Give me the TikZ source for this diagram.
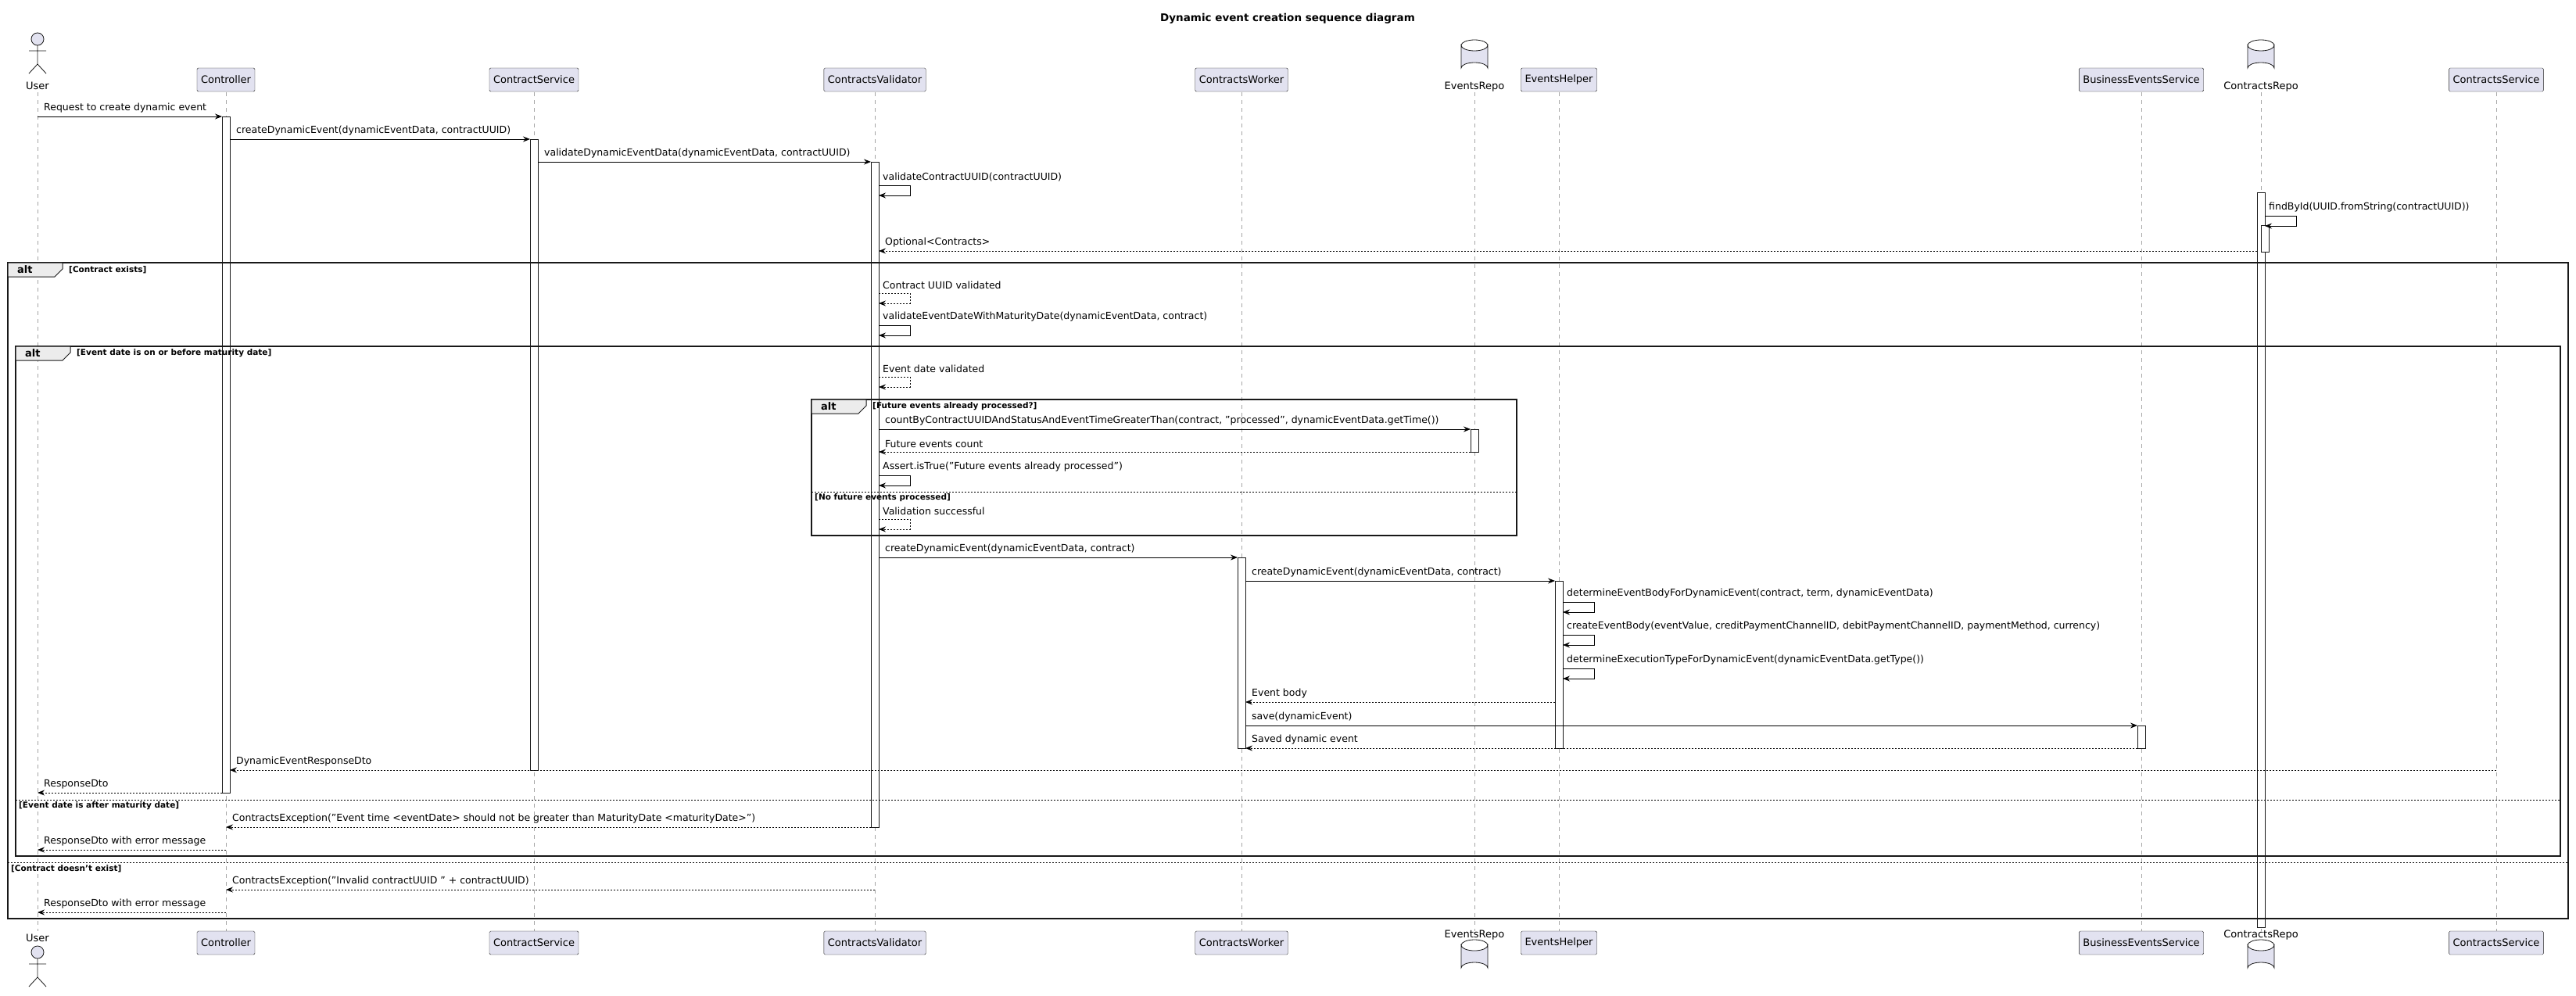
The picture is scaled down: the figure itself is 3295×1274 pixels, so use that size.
\documentclass[tikz,border=0pt]{standalone}
\usepackage{fontspec}
\setmainfont{DejaVu Sans}
\usetikzlibrary{arrows.meta}
\definecolor{pfill}{HTML}{E2E2F0}
\definecolor{pline}{HTML}{181818}
\tikzset{
  part/.style={draw=pline,fill=pfill,rounded corners=1.5pt,minimum height=30pt,inner xsep=5pt,font=\fontsize{13}{15}\selectfont},
  lbl/.style={inner sep=0pt,font=\fontsize{12.5}{14}\selectfont},
  plbl/.style={inner sep=0pt,font=\fontsize{13}{15}\selectfont},
  flbl/.style={inner sep=0pt,font=\bfseries\fontsize{10.5}{12}\selectfont},
  life/.style={draw=gray!70,dash pattern=on 5pt off 5pt,line width=0.6pt},
  act/.style={draw=pline,fill=white,line width=0.7pt},
  call/.style={line width=0.8pt,-{Stealth[length=9pt,width=7pt,inset=3pt]}},
  ret/.style={line width=0.8pt,dash pattern=on 2pt off 2pt,-{Stealth[length=9pt,width=7pt,inset=3pt]}},
  frame/.style={line width=1.6pt,draw=pline},
  sep/.style={line width=0.8pt,dash pattern=on 2pt off 2pt},
}
\newcommand\msg[5]{\draw[#5] (#1,#3) -- (#2,#3);
  \node[lbl,anchor=south west] at ({min(#1,#2)+8},#3-5) {#4};}
\newcommand\selfm[4]{\draw[#4] (#1,#2) -- (#1+40,#2) -- (#1+40,#2+13) -- (#1,#2+13);
  \node[lbl,anchor=south west] at (#1+5,#2-5) {#3};}
\newcommand\dbase[2]{%
  \draw[draw=pline,fill=pfill,line width=0.8pt] (#1-17,#2+8) -- (#1-17,#2+37) arc[x radius=17,y radius=7,start angle=180,end angle=360] -- (#1+17,#2+8) arc[x radius=17,y radius=7,start angle=0,end angle=180] -- cycle;
  \draw[draw=pline,line width=0.8pt] (#1-17,#2+8) arc[x radius=17,y radius=7,start angle=180,end angle=360];}
\newcommand\actor[2]{%
  \draw[draw=pline,fill=pfill,line width=0.8pt] (#1,#2+8) circle[radius=8];
  \draw[draw=pline,line width=0.8pt] (#1,#2+16) -- (#1,#2+40) (#1-11,#2+23) -- (#1+11,#2+23)
    (#1-11,#2+52) -- (#1,#2+40) -- (#1+11,#2+52);}
\newcommand\alttab[3]{%
  \draw[pline,fill=gray!15,line width=1pt] (#1,#2) -- (#1+#3,#2) -- (#1+#3,#2+8) -- (#1+#3-10,#2+18) -- (#1,#2+18) -- cycle;
  \node[inner sep=0pt,font=\bfseries\fontsize{13}{15}\selectfont,anchor=west] at (#1+12,#2+9) {alt};}
\begin{document}
\begin{tikzpicture}[x=1pt,y=-1pt]
\fill[white] (0,0) rectangle (3295,1274);
\useasboundingbox (0,0) rectangle (3295,1274);
\node[font=\bfseries\fontsize{13.5}{16}\selectfont] (title) at (1647,24) {Dynamic event creation sequence diagram};
% lifelines
\foreach \x in {48,289,683,1119,1588,1886,1994,2739,2892,3193}
  \draw[life] (\x,118) -- (\x,1191);
% participants
\foreach \x/\n/\t in {289/ctl/Controller,683/cs/ContractService,1119/cv/ContractsValidator,1588/cw/ContractsWorker,1994/eh/EventsHelper,2739/bes/BusinessEventsService,3193/css/ContractsService}{
  \node[part] (\n t) at (\x,102) {\t};
  \node[part] (\n b) at (\x,1206) {\t};}
\actor{48}{42}
\node[plbl] (usert) at (48,110) {User};
\node[plbl] (userb) at (48,1200) {User};
\actor{48}{1210}
\dbase{1886}{50}
\node[plbl] (ert) at (1886,111) {EventsRepo};
\dbase{1886}{1201}
\node[plbl] (erb) at (1886,1196) {EventsRepo};
\dbase{2892}{50}
\node[plbl] (crt) at (2892,111) {ContractsRepo};
\dbase{2892}{1201}
\node[plbl] (crb) at (2892,1196) {ContractsRepo};
% activations
\draw[act] (284,149) rectangle (294,1014);
\draw[act] (678,178) rectangle (688,985);
\draw[act] (1114,207) rectangle (1124,1058);
\draw[act] (2887,246) rectangle (2897,1186);
\draw[act] (2892,288) rectangle (2902,322);
\draw[act] (1881,549) rectangle (1891,578);
\draw[act] (1583,713) rectangle (1593,957);
\draw[act] (1989,743) rectangle (1999,957);
\draw[act] (2734,928) rectangle (2744,957);
% frames
\draw[frame] (10,336) rectangle (3285,1175);
\alttab{10}{336}{70}
\node[flbl,anchor=west] at (88,345) {[Contract exists]};
\draw[frame] (20,443) rectangle (3275,1095);
\alttab{20}{443}{70}
\node[flbl,anchor=west] at (98,452) {[Event date is on or before maturity date]};
\draw[frame] (1038,511) rectangle (1940,685);
\alttab{1038}{511}{70}
\node[flbl,anchor=west] at (1116,520) {[Future events already processed?]};
\draw[sep] (1038,629) -- (1940,629);
\node[flbl,anchor=west] at (1042,637) {[No future events processed]};
\draw[sep] (20,1023) -- (3275,1023);
\node[flbl,anchor=west] at (24,1031) {[Event date is after maturity date]};
\draw[sep] (10,1103) -- (3285,1103);
\node[flbl,anchor=west] at (14,1111) {[Contract doesn't exist]};
% messages
\msg{48}{284}{149}{Request to create dynamic event}{call}
\msg{294}{678}{178}{createDynamicEvent(dynamicEventData, contractUUID)}{call}
\msg{688}{1114}{207}{validateDynamicEventData(dynamicEventData, contractUUID)}{call}
\selfm{1124}{237}{validateContractUUID(contractUUID)}{call}
\selfm{2897}{276}{findById(UUID.fromString(contractUUID))}{call}
\msg{2887}{1124}{321}{Optional<Contracts>}{ret}
\selfm{1124}{375}{Contract UUID validated}{ret}
\selfm{1124}{416}{validateEventDateWithMaturityDate(dynamicEventData, contract)}{call}
\selfm{1124}{482}{Event date validated}{ret}
\msg{1124}{1881}{549}{countByContractUUIDAndStatusAndEventTimeGreaterThan(contract, "processed", dynamicEventData.getTime())}{call}
\msg{1881}{1124}{578}{Future events count}{ret}
\selfm{1124}{608}{Assert.isTrue("Future events already processed")}{call}
\selfm{1124}{664}{Validation successful}{ret}
\msg{1124}{1583}{713}{createDynamicEvent(dynamicEventData, contract)}{call}
\msg{1593}{1989}{743}{createDynamicEvent(dynamicEventData, contract)}{call}
\selfm{1999}{770}{determineEventBodyForDynamicEvent(contract, term, dynamicEventData)}{call}
\selfm{1999}{812}{createEventBody(eventValue, creditPaymentChannelID, debitPaymentChannelID, paymentMethod, currency)}{call}
\selfm{1999}{855}{determineExecutionTypeForDynamicEvent(dynamicEventData.getType())}{call}
\msg{1989}{1593}{898}{Event body}{ret}
\msg{1593}{2734}{928}{save(dynamicEvent)}{call}
\msg{2734}{1593}{957}{Saved dynamic event}{ret}
\msg{3193}{294}{985}{DynamicEventResponseDto}{ret}
\msg{284}{48}{1014}{ResponseDto}{ret}
\msg{1114}{289}{1058}{ContractsException("Event time <eventDate> should not be greater than MaturityDate <maturityDate>")}{ret}
\msg{289}{48}{1087}{ResponseDto with error message}{ret}
\msg{1119}{289}{1138}{ContractsException("Invalid contractUUID " + contractUUID)}{ret}
\msg{289}{48}{1167}{ResponseDto with error message}{ret}
\end{tikzpicture}
\end{document}
